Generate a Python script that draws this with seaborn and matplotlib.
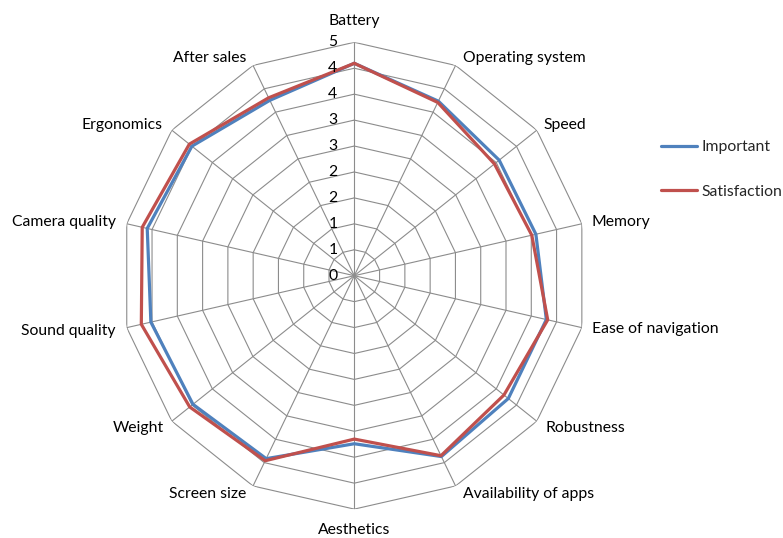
import numpy as np
import pandas as pd
import matplotlib
matplotlib.use("Agg")
import matplotlib.pyplot as plt
import seaborn as sns

categories = ["Battery", "Operating system", "Speed", "Memory", "Ease of navigation",
              "Robustness", "Availability of apps", "Aesthetics", "Screen size", "Weight",
              "Sound quality", "Camera quality", "Ergonomics", "After sales"]
important = [4.55, 4.15, 3.97, 3.99, 4.22, 4.22, 4.30, 3.60, 4.35, 4.42, 4.47, 4.55, 4.45, 4.17]
satisfaction = [4.55, 4.12, 3.84, 3.90, 4.25, 4.10, 4.28, 3.50, 4.40, 4.51, 4.68, 4.66, 4.52, 4.23]
series_names = ["Important", "Satisfaction"]
r_max = 5.0
n_rings = 9
tick_labels = ["0", "1", "1", "2", "2", "3", "3", "4", "4", "5"]

sns.set_style("white")
plt.rcParams["font.family"] = ["Lato", "DejaVu Sans"]
FS = 11.3

n = len(categories)
angles = np.linspace(0, 2 * np.pi, n, endpoint=False)
angles_closed = np.append(angles, angles[0] + 2 * np.pi)
levels = np.linspace(0, r_max, n_rings + 1)

fig = plt.figure(figsize=(7.83, 5.38), dpi=100)
W, H = 783, 538
cx, cy, R = 354.3, 275.7, 233.4
ax = fig.add_axes([(cx - R) / W, (H - cy - R) / H, 2 * R / W, 2 * R / H], projection="polar")
ax.set_theta_zero_location("N")
ax.set_theta_direction(-1)
ax.set_ylim(0, r_max)
ax.grid(False)
ax.spines["polar"].set_visible(False)
ax.set_xticks([])
ax.set_yticks([])
ax.set_facecolor("white")

grid_col = "#8c8c8c"
for lv in levels[1:]:
    ax.plot(angles_closed, [lv] * len(angles_closed), color=grid_col, lw=0.8, zorder=1)
for a in angles:
    ax.plot([a, a], [0, r_max], color=grid_col, lw=0.8, zorder=1)

df = pd.DataFrame({
    "theta": np.concatenate([angles_closed, angles_closed]),
    "value": important + [important[0]] + satisfaction + [satisfaction[0]],
    "series": [series_names[0]] * (n + 1) + [series_names[1]] * (n + 1),
})
colors = {"Important": "#4F81BD", "Satisfaction": "#C0504D"}
for s in series_names:
    sub = df[df["series"] == s]
    sns.lineplot(data=sub, x="theta", y="value", ax=ax, sort=False, color=colors[s],
                 lw=2.3, label=s, zorder=3, legend=False)

ax.set_xlabel("")
ax.set_ylabel("")

# radial tick labels
for lv, lab in zip(levels, tick_labels):
    ax.annotate(lab, xy=(0, lv), xytext=(-17, 0), textcoords="offset pixels",
                ha="right", va="center", fontsize=FS, color="#000000")

# category labels
offsets = [(0, 21, "center"), (7, 7, "left"), (7, 5, "left"), (10, 2, "left"),
           (10, -1, "left"), (9, -7, "left"), (7, -8, "left"), (0, -21, "center"),
           (-7, -8, "right"), (-8, -7, "right"), (-11, -3, "right"), (-11, 2, "right"),
           (-9, 5, "right"), (-7, 7, "right")]
for a, cat, (dx, dy, ha) in zip(angles, categories, offsets):
    ax.annotate(cat, xy=(a, r_max), xytext=(dx, dy), textcoords="offset pixels",
                ha=ha, va="center", fontsize=FS, color="#000000")

handles = ax.get_lines()[-2:]
fig.legend(handles, series_names, loc="upper left",
           bbox_to_anchor=(661 / W, 1 - 140 / H), frameon=False, fontsize=FS,
           handlelength=2.3, handletextpad=0.25, labelspacing=1.95,
           borderpad=0, borderaxespad=0)

fig.savefig("out.png", dpi=100, facecolor="white")
